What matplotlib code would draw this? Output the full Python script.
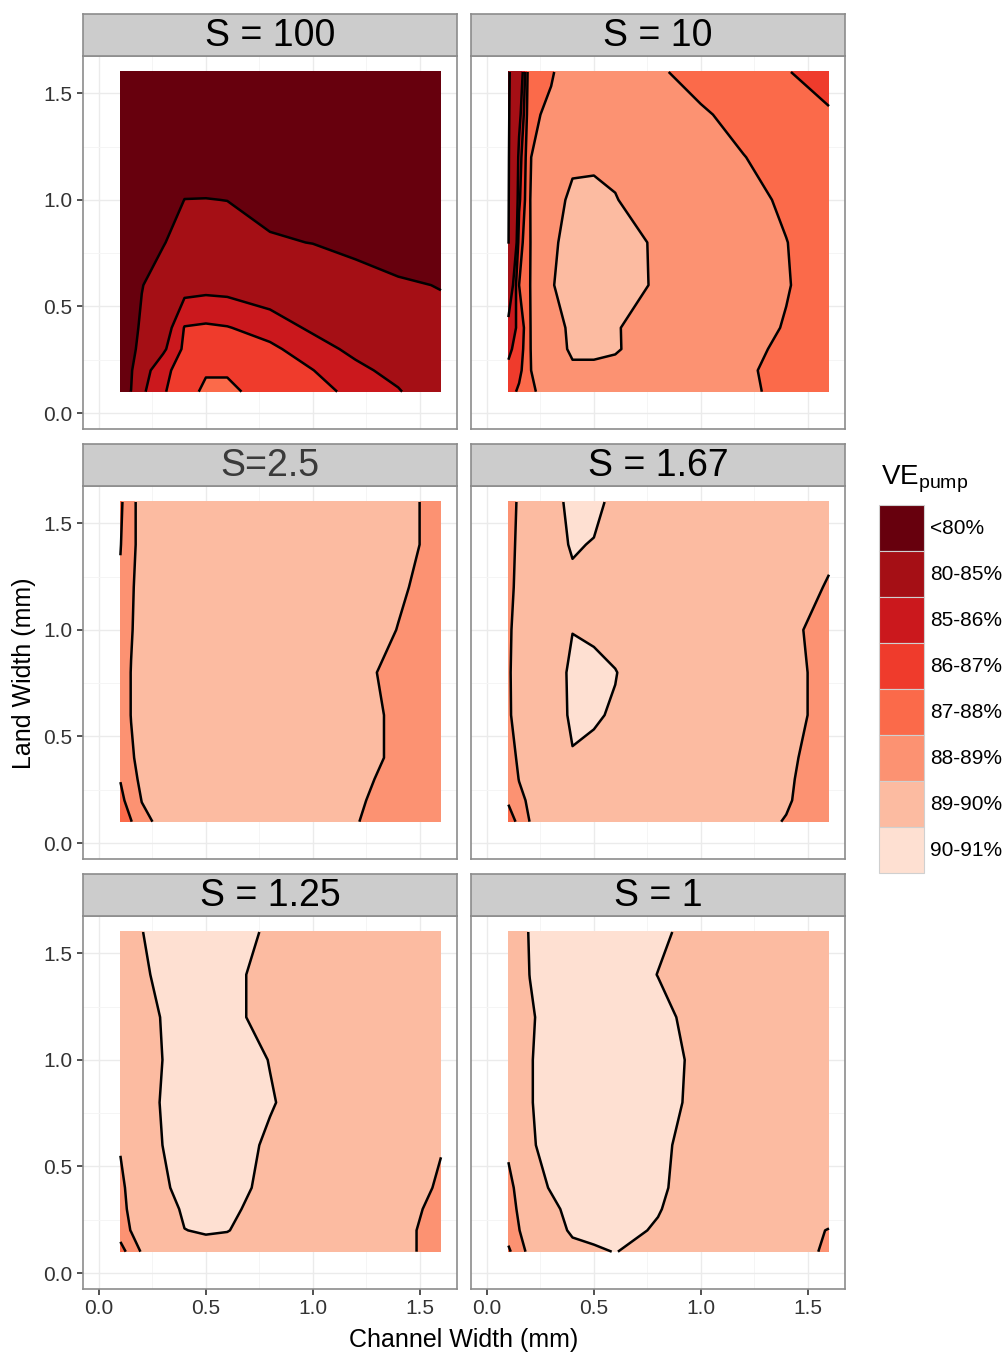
import matplotlib.pyplot as plt
import numpy as np
from matplotlib.patches import Patch

plt.rcParams['font.family'] = ['Liberation Sans', 'DejaVu Sans']
plt.rcParams['mathtext.fontset'] = 'custom'
plt.rcParams['mathtext.rm'] = 'Liberation Sans'

# grid of channel / land widths (mm)
channel = np.array([0.1, 0.15, 0.2, 0.3, 0.4, 0.5, 0.6, 0.8, 1.0, 1.2, 1.4, 1.6])
land = np.array([0.1, 0.2, 0.3, 0.4, 0.6, 0.8, 1.0, 1.2, 1.4, 1.6])

# volumetric efficiency of the pump (%), one row per land width
ve_s100 = np.array([
    [78.0, 80.05, 84.8, 85.9, 86.6, 87.2, 87.2, 86.6, 86.4, 85.7, 85.1, 84.0],
    [77.0, 79.5, 84.5, 85.7, 86.5, 86.9, 86.9, 86.3, 86.02, 85.3, 84.6, 83.6],
    [76.0, 78.8, 81.5, 84.8, 86.2, 86.5, 86.5, 86.2, 85.5, 84.7, 83.8, 82.8],
    [75.0, 78.3, 80.8, 84.3, 86.05, 86.15, 86.05, 85.6, 84.8, 84.0, 83.2, 82.2],
    [74.0, 77.0, 79.8, 82.5, 84.55, 84.65, 84.6, 84.2, 83.5, 82.3, 81.0, 79.7],
    [73.0, 75.5, 77.5, 79.7, 82.3, 82.4, 82.0, 80.5, 79.9, 78.5, 76.0, 75.0],
    [72.0, 74.0, 75.5, 77.5, 80.05, 80.1, 79.95, 78.5, 77.0, 75.5, 74.0, 72.5],
    [71.0, 72.5, 73.5, 75.5, 77.5, 77.5, 77.0, 76.0, 75.0, 73.5, 72.0, 71.0],
    [70.0, 71.5, 72.5, 74.0, 75.5, 75.5, 75.0, 74.0, 73.0, 72.0, 70.5, 69.5],
    [69.0, 70.5, 71.5, 72.5, 74.0, 74.0, 73.5, 72.5, 71.5, 70.5, 69.5, 68.5],
])

ve_s10 = np.array([
    [86.5, 87.2, 87.8, 88.5, 88.7, 88.75, 88.7, 88.5, 88.3, 88.15, 87.8, 87.4],
    [86.2, 86.7, 87.96, 88.6, 88.9, 88.9, 88.85, 88.6, 88.4, 88.1, 87.8, 87.4],
    [85.8, 86.4, 87.97, 88.7, 89.1, 89.1, 89.05, 88.7, 88.5, 88.2, 87.85, 87.4],
    [85.5, 86.2, 87.97, 88.8, 89.1, 89.2, 89.03, 88.8, 88.55, 88.3, 87.95, 87.5],
    [83.5, 87.0, 87.98, 88.95, 89.3, 89.4, 89.35, 88.9, 88.65, 88.4, 88.05, 87.6],
    [79.9, 86.5, 87.97, 88.9, 89.2, 89.35, 89.3, 88.9, 88.6, 88.35, 88.02, 87.5],
    [79.8, 85.8, 87.98, 88.8, 89.1, 89.2, 89.02, 88.75, 88.5, 88.3, 87.85, 87.4],
    [79.7, 85.46, 87.95, 88.7, 88.9, 88.85, 88.9, 88.6, 88.35, 88.02, 87.7, 87.3],
    [79.6, 84.5, 87.9, 88.1, 88.5, 88.6, 88.6, 88.4, 88.1, 87.75, 87.4, 87.1],
    [79.5, 83.5, 87.9, 87.95, 88.3, 88.4, 88.4, 88.1, 87.7, 87.4, 87.05, 86.6],
])

ve_s2_5 = np.array([
    [87.5, 87.95, 88.8, 89.2, 89.25, 89.25, 89.25, 89.2, 89.1, 89.02, 88.8, 88.6],
    [87.7, 88.5, 89.02, 89.25, 89.3, 89.3, 89.3, 89.25, 89.15, 89.05, 88.85, 88.65],
    [88.05, 88.7, 89.2, 89.3, 89.35, 89.35, 89.35, 89.3, 89.2, 89.08, 88.9, 88.7],
    [88.4, 88.9, 89.25, 89.35, 89.4, 89.4, 89.4, 89.35, 89.25, 89.1, 88.95, 88.7],
    [88.5, 89.02, 89.3, 89.4, 89.45, 89.45, 89.45, 89.4, 89.3, 89.1, 88.95, 88.75],
    [88.5, 89.02, 89.3, 89.4, 89.45, 89.45, 89.45, 89.4, 89.3, 89.1, 88.9, 88.75],
    [88.3, 88.95, 89.3, 89.4, 89.45, 89.45, 89.45, 89.4, 89.3, 89.2, 88.99, 88.8],
    [88.15, 88.9, 89.3, 89.4, 89.45, 89.45, 89.45, 89.4, 89.3, 89.2, 89.05, 88.85],
    [87.95, 88.85, 89.2, 89.35, 89.4, 89.4, 89.4, 89.35, 89.3, 89.2, 89.1, 88.9],
    [87.8, 88.85, 89.2, 89.35, 89.4, 89.4, 89.4, 89.35, 89.3, 89.2, 89.1, 88.9],
])

ve_s1_67 = np.array([
    [87.8, 88.1, 89.02, 89.4, 89.6, 89.6, 89.5, 89.4, 89.3, 89.15, 88.98, 88.7],
    [88.05, 88.85, 89.1, 89.5, 89.7, 89.7, 89.6, 89.5, 89.35, 89.2, 89.04, 88.75],
    [88.6, 89.02, 89.35, 89.6, 89.8, 89.8, 89.7, 89.55, 89.4, 89.25, 89.05, 88.8],
    [88.75, 89.1, 89.45, 89.7, 89.97, 89.9, 89.8, 89.6, 89.45, 89.3, 89.08, 88.8],
    [88.9, 89.3, 89.6, 89.75, 90.08, 90.05, 89.95, 89.6, 89.5, 89.35, 89.15, 88.85],
    [88.92, 89.3, 89.6, 89.75, 90.1, 90.15, 90.02, 89.6, 89.5, 89.35, 89.15, 88.85],
    [88.9, 89.25, 89.6, 89.85, 89.99, 89.9, 89.8, 89.6, 89.5, 89.35, 89.1, 88.85],
    [88.8, 89.2, 89.55, 89.8, 89.9, 89.85, 89.75, 89.6, 89.5, 89.4, 89.3, 88.95],
    [88.75, 89.15, 89.5, 89.8, 90.05, 89.97, 89.8, 89.6, 89.5, 89.4, 89.3, 89.12],
    [88.7, 89.1, 89.5, 89.8, 90.15, 90.15, 89.85, 89.6, 89.5, 89.4, 89.3, 89.15],
])

ve_s1_25 = np.array([
    [87.7, 88.3, 89.1, 89.4, 89.7, 89.8, 89.75, 89.5, 89.35, 89.2, 89.15, 88.8],
    [88.35, 89.05, 89.3, 89.6, 89.99, 90.05, 90.02, 89.7, 89.45, 89.3, 89.15, 88.8],
    [88.7, 89.2, 89.4, 89.7, 90.1, 90.15, 90.1, 89.8, 89.5, 89.35, 89.2, 88.85],
    [88.85, 89.2, 89.5, 89.9, 90.2, 90.25, 90.2, 89.85, 89.55, 89.4, 89.2, 88.95],
    [89.05, 89.4, 89.7, 90.01, 90.3, 90.35, 90.3, 89.9, 89.6, 89.45, 89.3, 89.02],
    [89.4, 89.55, 89.75, 90.05, 90.3, 90.4, 90.35, 90.05, 89.7, 89.55, 89.45, 89.35],
    [89.4, 89.55, 89.7, 90.01, 90.3, 90.4, 90.35, 89.98, 89.7, 89.55, 89.5, 89.4],
    [89.45, 89.6, 89.7, 90.05, 90.35, 90.4, 90.2, 89.75, 89.6, 89.55, 89.5, 89.4],
    [89.5, 89.65, 89.8, 90.3, 90.4, 90.4, 90.2, 89.75, 89.6, 89.55, 89.5, 89.4],
    [89.5, 89.7, 89.98, 90.3, 90.4, 90.4, 90.3, 89.9, 89.7, 89.6, 89.5, 89.4],
])

ve_s1 = np.array([
    [87.8, 88.7, 89.2, 89.5, 89.8, 89.9, 90.02, 89.7, 89.45, 89.3, 89.15, 88.95],
    [88.5, 88.98, 89.4, 89.7, 90.1, 90.2, 90.15, 89.95, 89.6, 89.35, 89.2, 88.98],
    [88.7, 89.1, 89.5, 89.85, 90.2, 90.3, 90.25, 90.03, 89.7, 89.45, 89.35, 89.2],
    [88.85, 89.15, 89.7, 90.05, 90.3, 90.35, 90.3, 90.08, 89.75, 89.5, 89.4, 89.25],
    [89.1, 89.5, 89.9, 90.25, 90.4, 90.45, 90.4, 90.1, 89.8, 89.55, 89.45, 89.35],
    [89.4, 89.6, 89.95, 90.3, 90.4, 90.45, 90.4, 90.2, 89.85, 89.6, 89.5, 89.4],
    [89.45, 89.65, 89.95, 90.3, 90.4, 90.45, 90.4, 90.25, 89.85, 89.6, 89.5, 89.45],
    [89.5, 89.65, 89.9, 90.3, 90.4, 90.4, 90.35, 90.15, 89.8, 89.6, 89.55, 89.5],
    [89.5, 89.7, 90.01, 90.3, 90.4, 90.4, 90.3, 89.99, 89.75, 89.6, 89.55, 89.5],
    [89.5, 89.7, 90.05, 90.3, 90.4, 90.4, 90.35, 90.1, 89.8, 89.65, 89.55, 89.5],
])

panel_titles = ['S = 100', 'S = 10', 'S=2.5', 'S = 1.67', 'S = 1.25', 'S = 1']
panel_data = [ve_s100, ve_s10, ve_s2_5, ve_s1_67, ve_s1_25, ve_s1]

levels = [60, 80, 85, 86, 87, 88, 89, 90, 91]
fill_colors = ['#67000d', '#a50f15', '#cb181d', '#ef3b2c',
               '#fb6a4a', '#fc9272', '#fcbba1', '#fee0d2']
band_labels = ['<80%', '80-85%', '85-86%', '86-87%',
               '87-88%', '88-89%', '89-90%', '90-91%']

W, H = 1004, 1353
fig = plt.figure(figsize=(W / 100, H / 100), dpi=100)

col_left = [83, 471]
row_top = [56, 486, 916]
pw, ph, sh = 374, 373, 42

X, Y = np.meshgrid(channel, land)
ticks = [0.0, 0.5, 1.0, 1.5]

for i, (title, z) in enumerate(zip(panel_titles, panel_data)):
    r, c = divmod(i, 2)
    x0, top = col_left[c], row_top[r]
    ax = fig.add_axes([x0 / W, 1 - (top + ph) / H, pw / W, ph / H])
    ax.set_xlim(-0.075, 1.675)
    ax.set_ylim(-0.075, 1.675)
    ax.set_xticks(ticks)
    ax.set_yticks(ticks)
    ax.set_xticks([0.25, 0.75, 1.25], minor=True)
    ax.set_yticks([0.25, 0.75, 1.25], minor=True)
    ax.grid(True, which='major', color='#ebebeb', lw=1.0, zorder=0)
    ax.grid(True, which='minor', color='#f5f5f5', lw=0.7, zorder=0)
    ax.set_axisbelow(True)
    ax.tick_params(which='minor', length=0)
    ax.tick_params(which='major', length=4.5, width=1.2, color='#333333',
                   labelsize=15, labelcolor='#333333', pad=3)
    ax.set_xticklabels(['0.0', '0.5', '1.0', '1.5'])
    ax.set_yticklabels(['0.0', '0.5', '1.0', '1.5'])
    if r != 2:
        ax.tick_params(axis='x', length=0, labelbottom=False)
    if c != 0:
        ax.tick_params(axis='y', length=0, labelleft=False)
    for sp in ax.spines.values():
        sp.set_color('#8c8c8c')
        sp.set_linewidth(1.2)

    ax.contourf(X, Y, z, levels=levels, colors=fill_colors, zorder=2)
    ax.contour(X, Y, z, levels=levels[1:-1], colors='black',
               linewidths=1.8, zorder=3)

    # facet strip
    st = fig.add_axes([x0 / W, 1 - top / H, pw / W, sh / H])
    st.set_facecolor('#cccccc')
    st.set_xticks([])
    st.set_yticks([])
    for sp in st.spines.values():
        sp.set_color('#8c8c8c')
        sp.set_linewidth(1.2)
    st.text(0.5, 0.47, title, ha='center', va='center', fontsize=27,
            color='#3a3a3a' if title == 'S=2.5' else 'black',
            transform=st.transAxes)

fig.text(464 / W, 1 - 1340 / H, 'Channel Width (mm)', ha='center',
         va='center', fontsize=18)
fig.text(24 / W, 1 - 673 / H, 'Land Width (mm)', ha='center', va='center',
         rotation=90, fontsize=18)

# legend for the efficiency bands
fig.text(881 / W, 1 - 484 / H, r'VE$_{\mathrm{pump}}$', ha='left',
         va='baseline', fontsize=20)
handles = [Patch(facecolor=fc, edgecolor='#d0d0d0', linewidth=0.8)
           for fc in fill_colors]
fig.legend(handles, band_labels, loc='upper left',
           bbox_to_anchor=(879 / W, 1 - 505 / H), frameon=False,
           fontsize=15, handlelength=2.16, handleheight=3.02,
           labelspacing=0, handletextpad=0.3, borderpad=0,
           borderaxespad=0)

fig.savefig('out.png', dpi=100)
